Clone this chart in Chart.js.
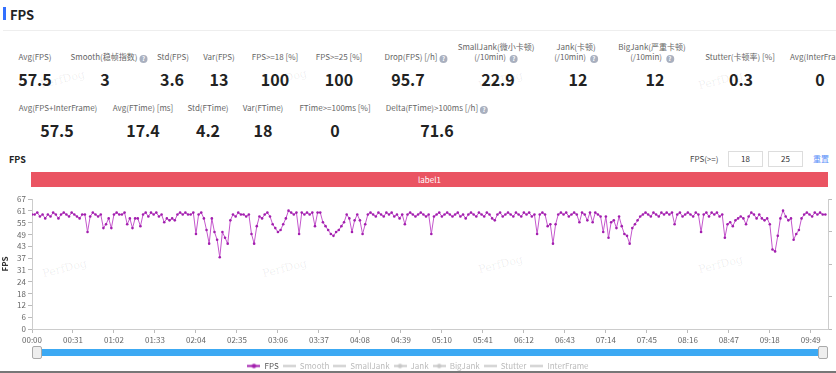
<!DOCTYPE html>
<html>
<head>
<meta charset="utf-8">
<script src="https://cdn.jsdelivr.net/npm/chart.js@4/dist/chart.umd.min.js"></script>
<style>
  html, body { margin: 0; padding: 0; background: #fff; }
  body { width: 836px; height: 373px; overflow: hidden; position: relative;
         font-family: "Noto Sans CJK SC", "Noto Sans", sans-serif; color: #333; }
  .abs { position: absolute; white-space: nowrap; }
  .c { transform: translateX(-50%); text-align: center; }
  .lab { font-size: 8px; line-height: 10px; color: #666; }
  .val { font-size: 16px; line-height: 18px; font-weight: bold; color: #222; }
  .q { display: inline-block; width: 8px; height: 8px; border-radius: 50%; background: #a9b0bf;
       color: #fff; font-size: 6px; line-height: 8px; text-align: center; font-weight: bold;
       vertical-align: -1px; margin-left: 2px; }
  .wm { position: absolute; color: rgba(0,0,0,0.07); font-family: "DejaVu Serif", serif;
        font-size: 11px; transform: rotate(-14deg); }
  .inp { position: absolute; top: 151px; width: 33px; height: 14px; border: 1px solid #ddd;
         font-size: 8px; line-height: 14px; text-align: center; color: #333; }
  .handle { position: absolute; top: 346px; width: 8px; height: 11px; background: #eee;
            border: 1px solid #aaa; border-radius: 2px; }
</style>
</head>
<body>
<!-- page header -->
<div class="abs" style="left:3px;top:7px;width:3px;height:13px;background:#3370ff"></div>
<div class="abs" style="left:10px;top:5px;font-size:13px;font-weight:bold;color:#222">FPS</div>
<div class="abs" style="left:3px;top:30px;width:833px;height:1px;background:#eee"></div>

<!-- stats row 1 -->
<div class="abs c lab" style="left:35px;top:52px">Avg(FPS)</div>
<div class="abs c val" style="left:35px;top:70px">57.5</div>
<div class="abs c lab" style="left:109px;top:52px">Smooth(稳帧指数)<span class="q">?</span></div>
<div class="abs c val" style="left:105px;top:70px">3</div>
<div class="abs c lab" style="left:173px;top:52px">Std(FPS)</div>
<div class="abs c val" style="left:172px;top:70px">3.6</div>
<div class="abs c lab" style="left:219px;top:52px">Var(FPS)</div>
<div class="abs c val" style="left:219px;top:70px">13</div>
<div class="abs c lab" style="left:275px;top:52px">FPS&gt;=18 [%]</div>
<div class="abs c val" style="left:275px;top:70px">100</div>
<div class="abs c lab" style="left:339px;top:52px">FPS&gt;=25 [%]</div>
<div class="abs c val" style="left:339px;top:70px">100</div>
<div class="abs c lab" style="left:416px;top:52px">Drop(FPS) [/h]<span class="q">?</span></div>
<div class="abs c val" style="left:408px;top:70px">95.7</div>
<div class="abs c lab" style="left:496px;top:42px">SmallJank(微小卡顿)<br>(/10min) <span class="q">?</span></div>
<div class="abs c val" style="left:498px;top:70px">22.9</div>
<div class="abs c lab" style="left:576px;top:42px">Jank(卡顿)<br>(/10min) <span class="q">?</span></div>
<div class="abs c val" style="left:578px;top:70px">12</div>
<div class="abs c lab" style="left:652px;top:42px">BigJank(严重卡顿)<br>(/10min) <span class="q">?</span></div>
<div class="abs c val" style="left:655px;top:70px">12</div>
<div class="abs c lab" style="left:740px;top:52px">Stutter(卡顿率) [%]</div>
<div class="abs c val" style="left:741px;top:70px">0.3</div>
<div class="abs lab" style="left:790px;top:52px">Avg(InterFrame) [ms]</div>
<div class="abs c val" style="left:820px;top:70px">0</div>

<!-- stats row 2 -->
<div class="abs c lab" style="left:58px;top:103px">Avg(FPS+InterFrame)</div>
<div class="abs c val" style="left:57px;top:121px">57.5</div>
<div class="abs c lab" style="left:143px;top:103px">Avg(FTime) [ms]</div>
<div class="abs c val" style="left:143px;top:121px">17.4</div>
<div class="abs c lab" style="left:208px;top:103px">Std(FTime)</div>
<div class="abs c val" style="left:208px;top:121px">4.2</div>
<div class="abs c lab" style="left:263px;top:103px">Var(FTime)</div>
<div class="abs c val" style="left:263px;top:121px">18</div>
<div class="abs c lab" style="left:335px;top:103px">FTime&gt;=100ms [%]</div>
<div class="abs c val" style="left:335px;top:121px">0</div>
<div class="abs c lab" style="left:437px;top:103px">Delta(FTime)&gt;100ms [/h]<span class="q">?</span></div>
<div class="abs c val" style="left:437px;top:121px">71.6</div>

<!-- chart toolbar -->
<div class="abs" style="left:9px;top:153px;font-size:9px;font-weight:bold;color:#222">FPS</div>
<div class="abs" style="left:690px;top:153px;font-size:8px;color:#444">FPS(&gt;=)</div>
<div class="inp" style="left:728px">18</div>
<div class="inp" style="left:768px">25</div>
<div class="abs" style="left:813px;top:153px;font-size:8px;color:#5b8ff9">重置</div>
<div class="abs" style="left:31px;top:172px;width:797px;height:15px;background:#ea5462;color:#fff;font-size:8px;line-height:15px;text-align:center">label1</div>

<!-- watermarks -->
<div class="wm" style="left:40px;top:73px">PerfDog</div>
<div class="wm" style="left:262px;top:72px">PerfDog</div>
<div class="wm" style="left:478px;top:74px">PerfDog</div>
<div class="wm" style="left:698px;top:74px">PerfDog</div>
<div class="wm" style="left:42px;top:262px">PerfDog</div>
<div class="wm" style="left:262px;top:262px">PerfDog</div>
<div class="wm" style="left:478px;top:258px">PerfDog</div>
<div class="wm" style="left:698px;top:258px">PerfDog</div>

<div style="position:absolute;left:0;top:190px;width:836px;height:190px">
  <canvas id="fpsChart"></canvas>
</div>

<!-- zoom slider -->
<div class="abs" style="left:36px;top:349px;width:787px;height:7px;background:#3ca9f3"></div>
<div class="handle" style="left:32px"></div>
<div class="handle" style="left:818px"></div>
<div class="abs" style="left:0;top:371px;width:836px;height:2px;background:#777"></div>

<script>
/* [ Data ] */
const sampleSeconds = 2;   // one FPS sample every 2 s
const fpsValues = [
  59,59,60,58,59,57,59,58,60,59,57,59,60,59,58,60,59,58,57,59,
  59,50,58,60,59,58,59,52,54,57,52,59,60,59,59,60,54,57,52,57,
  57,53,59,60,58,60,59,60,58,59,55,57,56,57,56,59,60,59,60,59,
  59,60,49,59,60,57,51,44,57,50,46,37,50,47,44,56,59,58,60,59,
  59,58,59,49,44,53,58,57,59,60,58,54,52,50,51,54,57,61,60,59,
  60,49,60,59,60,59,60,53,60,60,55,53,51,49,48,50,51,53,55,59,
  57,50,56,59,56,49,54,59,60,59,58,60,59,58,60,59,60,58,59,57,
  59,54,59,60,59,58,59,60,59,58,59,49,58,59,60,58,59,60,59,58,
  59,60,58,59,57,59,60,59,58,60,59,58,60,59,57,56,59,60,58,59,
  60,59,58,60,59,58,60,59,60,58,59,49,59,60,59,53,54,44,54,59,
  60,59,60,58,59,60,59,55,60,59,56,60,55,60,59,58,50,58,47,55,
  56,52,58,53,49,48,44,52,54,56,58,59,60,59,58,60,59,58,60,59,
  60,59,60,54,59,60,58,59,60,59,58,60,59,50,59,60,58,60,59,60,
  58,59,47,54,55,53,56,57,58,57,54,58,60,59,57,59,57,56,57,54,
  41,40,48,57,61,58,56,57,46,49,51,57,59,60,59,58,60,59,60,59,
  59
];
const timeMax = 602;        // seconds shown on the x axis
const timeTickStep = 31;    // 00:00, 00:31, 01:02 ...
const yTickLabels = ['0','6','12','18','24','31','37','43','49','55','61','67'];
const yMax = 67;
const seriesNames = ['FPS','Smooth','SmallJank','Jank','BigJank','Stutter','InterFrame'];
const seriesDots  = [true, false, false, true, true, false, false];

/* [ Helpers ] */
function mmss(sec) {
    var m = Math.floor(sec / 60), s = Math.round(sec % 60);
    return String(m).padStart(2, '0') + ':' + String(s).padStart(2, '0');
}

function legendIcon(color, dot) {
    var c = document.createElement('canvas');
    c.width = 13; c.height = 7;
    var g = c.getContext('2d');
    g.strokeStyle = color; g.lineWidth = 2;
    g.beginPath(); g.moveTo(0, 3.5); g.lineTo(13, 3.5); g.stroke();
    if (dot) {
        g.fillStyle = color; g.beginPath(); g.arc(6.5, 3.5, 2.2, 0, Math.PI * 2); g.fill();
    }
    return c;
}

const purple = '#a21fae';
const greyLegend = '#c8c8c8';
const icons = seriesNames.map((n, i) => legendIcon(i === 0 ? purple : greyLegend, seriesDots[i]));

const datasets = seriesNames.map((name, i) => ({
    label: name,
    data: i === 0 ? fpsValues.map((v, k) => ({x: k * sampleSeconds, y: v})) : [],
    borderColor: i === 0 ? '#c457cc' : greyLegend,
    borderWidth: 1,
    pointRadius: i === 0 ? 1.3 : 0,
    pointBackgroundColor: purple,
    pointBorderWidth: 0,
    tension: 0,
    yAxisID: 'y'
}));

/* [ Chart ] */
Chart.defaults.font.family = '"Noto Sans CJK SC", "Noto Sans", sans-serif';
Chart.defaults.font.size = 8;
Chart.defaults.color = '#666';

const ctx = document.getElementById('fpsChart').getContext('2d');
let fpsChart = new Chart(ctx, {
    type: 'line',
    data: { datasets: datasets },
    options: {
        responsive: true,
        maintainAspectRatio: false,
        animation: false,
        layout: { padding: { top: 9, left: 0, right: 0, bottom: 0 } },
        plugins: {
            tooltip: { enabled: false },
            legend: {
                position: 'bottom',
                labels: {
                    usePointStyle: true,
                    pointStyleWidth: 13,
                    boxHeight: 7,
                    padding: 4,
                    font: { size: 8 },
                    generateLabels: function (chart) {
                        return seriesNames.map((n, i) => ({
                            text: n,
                            datasetIndex: i,
                            pointStyle: icons[i],
                            fillStyle: 'transparent',
                            strokeStyle: 'transparent',
                            lineWidth: 0,
                            hidden: false,
                            fontColor: i === 0 ? '#555' : '#bbb'
                        }));
                    }
                }
            }
        },
        scales: {
            x: {
                type: 'linear',
                min: 0,
                max: timeMax,
                grid: { drawOnChartArea: false, drawTicks: true, tickLength: 4, color: '#bbb' },
                border: { color: '#ccc' },
                ticks: {
                    stepSize: timeTickStep,
                    includeBounds: false,
                    autoSkip: false,
                    maxRotation: 0,
                    padding: 2,
                    callback: v => mmss(v)
                },
                afterFit: s => { s.height = 29; }
            },
            y: {
                position: 'left',
                min: 0,
                max: yMax,
                grid: { drawOnChartArea: false, drawTicks: true, tickLength: 4, color: '#bbb' },
                border: { color: '#ccc' },
                title: { display: true, text: 'FPS', color: '#333', font: { size: 8, weight: 'bold' }, padding: 0 },
                ticks: { padding: 2, autoSkip: false, callback: (v, i) => yTickLabels[i] },
                afterBuildTicks: s => { s.ticks = yTickLabels.map((l, i) => ({ value: i * yMax / (yTickLabels.length - 1) })); },
                afterFit: s => { s.width = 32; }
            },
            y1: {
                position: 'right',
                min: 0,
                max: 4,
                grid: { drawOnChartArea: false, drawTicks: true, tickLength: 4, color: '#bbb' },
                border: { color: '#ccc' },
                ticks: { stepSize: 1, display: false },
                afterFit: s => { s.width = 8; }
            }
        }
    }
});
</script>
</body>
</html>
